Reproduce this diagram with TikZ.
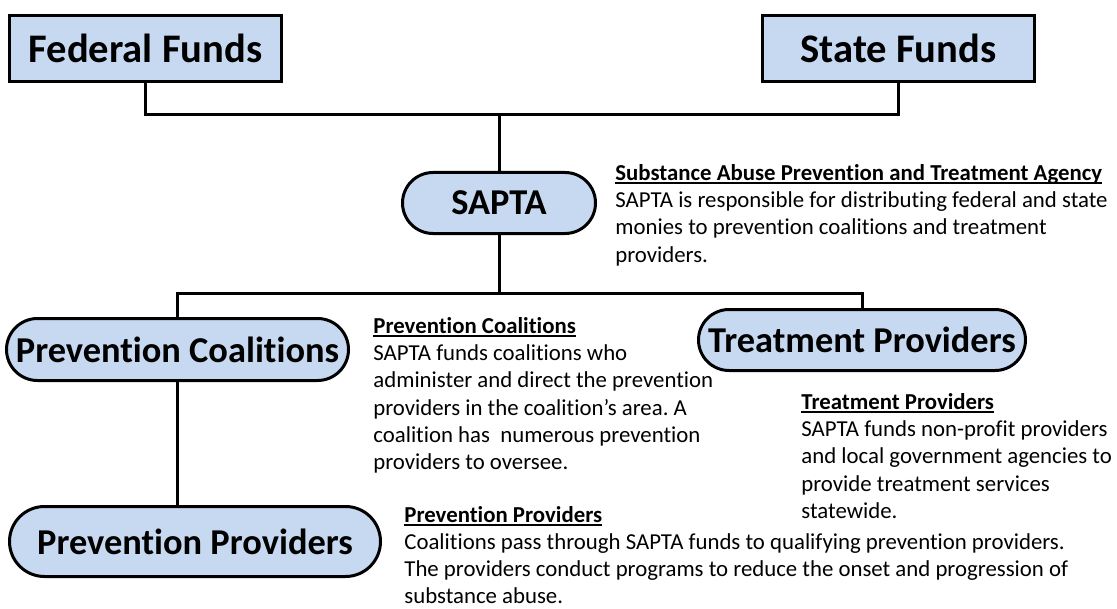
\documentclass[tikz,border=0pt]{standalone}
\usepackage{fontspec}
\setmainfont{Carlito}[Ligatures=CommonOff]
\definecolor{boxblue}{RGB}{198,217,241}
% bold heading with its own rule; smashed so a note hangs from its baseline
\newcommand\headline[1]{\smash{\sbox0{\bfseries #1}%
  \rlap{\rule[-1.6pt]{\wd0}{0.75pt}}\usebox0}}
\tikzset{
  unit/.style={draw, line width=1.5pt, fill=boxblue, inner sep=0pt},
  fundbox/.style={unit, minimum width=136pt, minimum height=33pt,
    font=\fontsize{20.3}{24}\selectfont\bfseries},
  pill/.style={unit, rounded corners=#1, minimum height=2*#1,
    font=\fontsize{18.2}{22}\selectfont\bfseries},
  note/.style={anchor=north west, align=left, inner sep=0pt,
    font=\fontsize{11.4}{13.6}\selectfont\frenchspacing},
  link/.style={line width=1.5pt}
}
\begin{document}
\begin{tikzpicture}[x=0.5pt,y=-0.5pt]
  \useasboundingbox (0,0) rectangle (1117,609);
  % money sources
  \node[fundbox] (fed) at (145.5,48.5) {Federal Funds};
  \node[fundbox] (state) at (898.5,48.5) {State Funds};
  % agency and the ones it pays
  \node[pill=15.25pt, minimum width=96.5pt] (sapta) at (499,203) {SAPTA};
  \node[pill=15.5pt, minimum width=171pt] (coal) at (177.5,349.5) {Prevention Coalitions};
  \node[pill=15.25pt, minimum width=163.5pt] (treat) at (862,340) {Treatment Providers};
  \node[pill=17.5pt, minimum width=185.5pt] (prov) at (195,541.5) {Prevention Providers};
  % tree lines
  \coordinate (upper) at (499,115);
  \coordinate (lower) at (499,293);
  \draw[link] (fed.south) |- (upper) -| (state.south);
  \draw[link] (upper) -- (sapta.north);
  \draw[link] (sapta.south) -- (lower);
  \draw[link] (coal.north) |- (lower) -| (treat.north);
  \draw[link] (coal.south) -- (coal.south |- prov.north);
  % side notes, placed at the baseline of their heading
  \node[note] (saptanote) at (615,180)
    {\headline{Substance Abuse Prevention and Treatment Agency}\\
     SAPTA is responsible for distributing federal and state\\
     monies to prevention coalitions and treatment\\
     providers.};
  \node[note] (coalnote) at (373,333)
    {\headline{Prevention Coalitions}\\
     SAPTA funds coalitions who\\
     administer and direct the prevention\\
     providers in the coalition’s area. A\\
     coalition has\ \ numerous prevention\\
     providers to oversee.};
  \node[note] (treatnote) at (801,409)
    {\headline{Treatment Providers}\\
     SAPTA funds non-profit providers\\
     and local government agencies to\\
     provide treatment services\\
     statewide.};
  \node[note, font=\fontsize{11.4}{13.5}\selectfont\frenchspacing] (provnote) at (404,522)
    {\headline{Prevention Providers}\\
     Coalitions pass through SAPTA funds to qualifying prevention providers.\\
     The providers conduct programs to reduce the onset and progression of\\
     substance abuse.};
\end{tikzpicture}
\end{document}
